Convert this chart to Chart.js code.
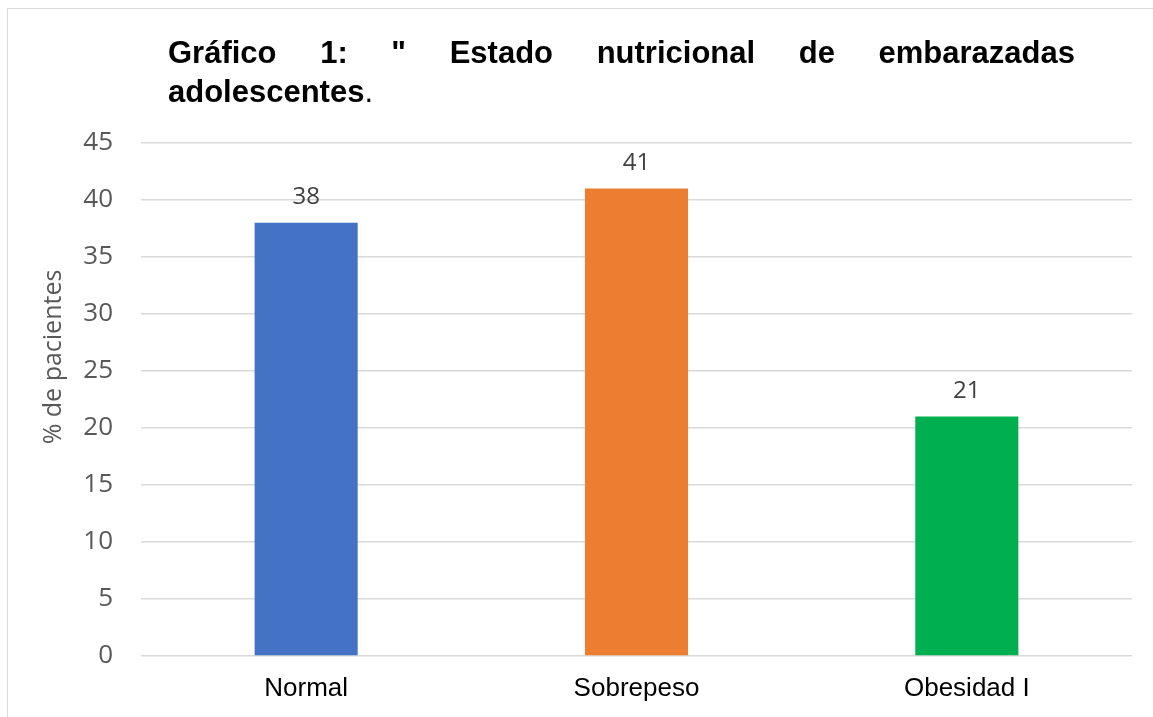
<!DOCTYPE html>
<html>
<head>
<meta charset="utf-8">
<script src="https://cdn.jsdelivr.net/npm/chart.js@4/dist/chart.umd.min.js"></script>
<style>
  body { margin: 0; background: #fff; }
  #wrap { width: 1153px; height: 717px; position: relative; }
</style>
</head>
<body>
<div id="wrap"><canvas id="barChart"></canvas></div>
<script>
// datos del grafico
var categorias = ["Normal", "Sobrepeso", "Obesidad I"];
var valores = [38, 41, 21];
var colores = ["#4472C4", "#ED7D31", "#00B050"];
var titulo1 = ["Gráfico", "1:", "\"", "Estado", "nutricional", "de", "embarazadas"];
var titulo2 = "adolescentes";
var tituloEje = "% de pacientes";

// fondo, borde y titulo justificado
var marco = {
  id: 'marco',
  beforeDraw: function(chart) {
    var c = chart.ctx;
    c.save();
    c.fillStyle = '#fff';
    c.fillRect(0, 0, chart.width, chart.height);
    c.strokeStyle = '#D9D9D9';
    c.lineWidth = 1;
    c.strokeRect(7.5, 8.5, chart.width + 20, chart.height + 20);

    // titulo, linea 1 justificada
    c.fillStyle = '#000';
    c.font = 'bold 31px "Liberation Sans", Arial, sans-serif';
    c.textBaseline = 'alphabetic';
    c.textAlign = 'left';
    var x0 = 168, x1 = 1075;
    var total = 0;
    for (var i = 0; i < titulo1.length; i++) total += c.measureText(titulo1[i]).width;
    var gap = (x1 - x0 - total) / (titulo1.length - 1);
    var x = x0;
    for (var j = 0; j < titulo1.length; j++) {
      c.fillText(titulo1[j], x, 63);
      x += c.measureText(titulo1[j]).width + gap;
    }
    // linea 2
    c.fillText(titulo2, x0, 102);
    var w2 = c.measureText(titulo2).width;
    c.font = '31px "Liberation Sans", Arial, sans-serif';
    c.fillText('.', x0 + w2, 102);

    // titulo del eje y
    c.font = '25px "Open Sans", sans-serif';
    c.fillStyle = '#595959';
    c.translate(54, 357);
    c.rotate(-Math.PI / 2);
    c.textAlign = 'center';
    c.textBaseline = 'middle';
    c.fillText(tituloEje, 0, 0);
    c.restore();
  },
  afterDatasetsDraw: function(chart) {
    var c = chart.ctx;
    var meta = chart.getDatasetMeta(0);
    c.save();
    c.font = '24px "Open Sans", sans-serif';
    c.fillStyle = '#404040';
    c.textAlign = 'center';
    c.textBaseline = 'alphabetic';
    meta.data.forEach(function(bar, k) {
      c.fillText(valores[k], bar.x, bar.y - 19);
    });
    c.restore();
  }
};

var ctxB = document.getElementById('barChart').getContext('2d');
var miGrafico = new Chart(ctxB, {
  type: 'bar',
  data: {
    labels: categorias,
    datasets: [{
      data: valores,
      backgroundColor: colores,
      categoryPercentage: 1,
      barPercentage: 0.312
    }]
  },
  options: {
    responsive: true,
    maintainAspectRatio: false,
    animation: false,
    layout: { padding: { top: 143, right: 21, left: 0, bottom: 0 } },
    plugins: {
      legend: { display: false },
      tooltip: { enabled: false }
    },
    scales: {
      x: {
        grid: { display: false, drawTicks: false },
        border: { display: false },
        ticks: {
          color: '#000',
          padding: 17,
          font: { family: '"Liberation Sans", Arial, sans-serif', size: 26 }
        },
        afterFit: function(s) { s.height = 61; }
      },
      y: {
        min: 0,
        max: 45,
        ticks: {
          stepSize: 5,
          color: '#595959',
          padding: 28,
          font: { family: '"Open Sans", sans-serif', size: 26 }
        },
        grid: { color: '#D9D9D9', lineWidth: 1.5, drawTicks: false },
        border: { display: false },
        afterFit: function(s) { s.width = 141; }
      }
    }
  },
  plugins: [marco]
});
</script>
</body>
</html>
